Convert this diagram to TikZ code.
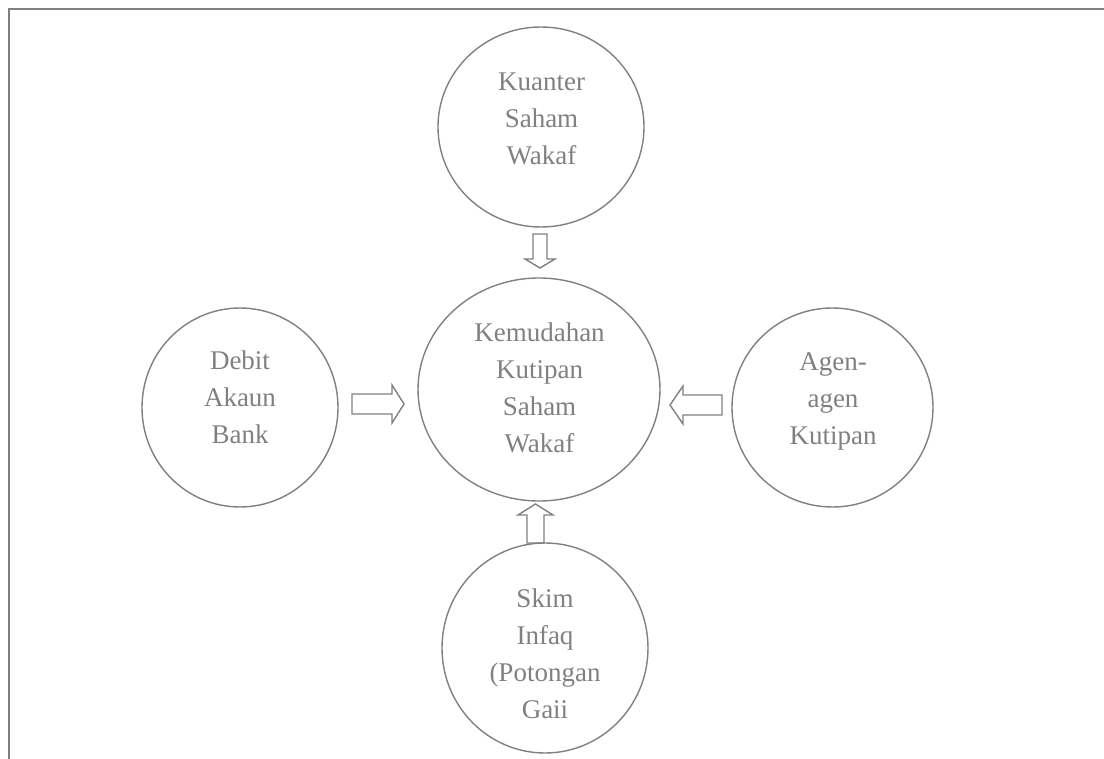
\documentclass[tikz,border=0pt]{standalone}
\usepackage{fontspec}
\setmainfont{Liberation Serif}
\usetikzlibrary{shapes.geometric}
\definecolor{ink}{HTML}{808080}
\begin{document}
\begin{tikzpicture}[x=1pt,y=-1pt,
  bubble/.style={draw=ink, line width=1.4pt, ellipse, inner sep=0pt},
  txt/.style={text=ink, font=\fontsize{27}{37}\selectfont, align=center, inner sep=0pt},
  blockarrow/.style={draw=ink, line width=1.4pt, line join=miter},
  frameline/.style={draw=ink, line width=2pt}]
\useasboundingbox (0,0) rectangle (1104,759);
% frame
\draw[frameline] (9,759) -- (9,9) -- (1104,9);
% circles
\node[bubble, minimum width=206pt, minimum height=200pt] (top) at (541,127) {};
\node[bubble, minimum width=242pt, minimum height=223pt] (mid) at (539,389.5) {};
\node[bubble, minimum width=196pt, minimum height=199pt] (left) at (240,407.5) {};
\node[bubble, minimum width=201pt, minimum height=199pt] (right) at (832.5,407.5) {};
\node[bubble, minimum width=206pt, minimum height=210pt] (bottom) at (545,648) {};
% texts
\node[txt] (toptext) at (541.5,119) {Kuanter\\Saham\\Wakaf};
\node[txt] (midtext) at (539.5,388) {Kemudahan\\Kutipan\\Saham\\Wakaf};
\node[txt] (lefttext) at (240,397) {Debit\\Akaun\\Bank};
\node[txt] (righttext) at (833,401) {Agen-\\agen\\Kutipan};
\node[txt] (bottomtext) at (545,654) {Skim\\Infaq\\(Potongan\\Gaii};
% block arrows
% top -> mid (down)
\draw[blockarrow] (533,234) -- (547,234) -- (547,259) -- (555,259) -- (540,268) -- (525,259) -- (533,259) -- cycle;
% left -> mid (right)
\draw[blockarrow] (352,394) -- (392,394) -- (392,385) -- (404,404) -- (392,423) -- (392,414) -- (352,414) -- cycle;
% right -> mid (left)
\draw[blockarrow] (722,395) -- (683,395) -- (683,386) -- (670,405) -- (683,424) -- (683,415) -- (722,415) -- cycle;
% bottom -> mid (up)
\draw[blockarrow] (527,543) -- (527,515) -- (518,515) -- (535.5,504) -- (553,515) -- (544,515) -- (544,543) -- cycle;
\end{tikzpicture}
\end{document}
